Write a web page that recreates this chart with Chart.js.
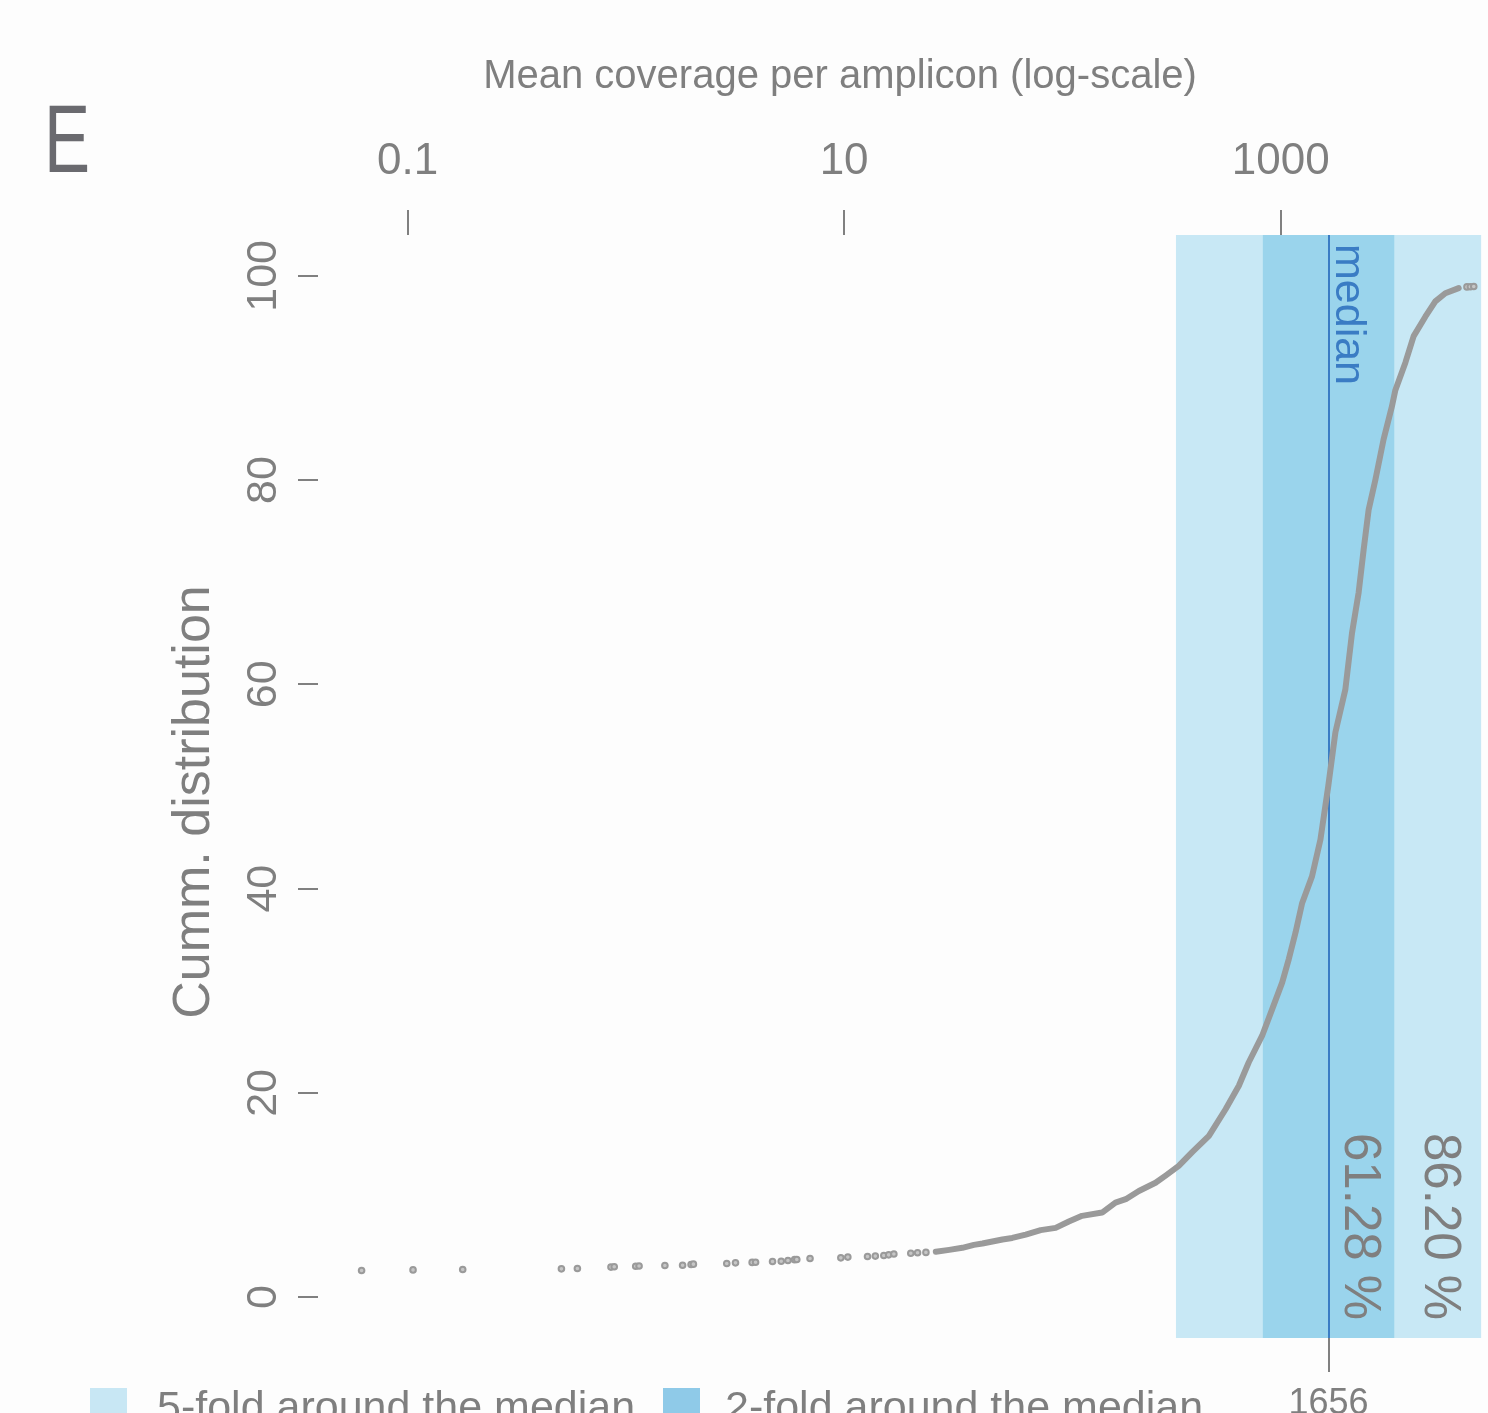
<!DOCTYPE html>
<html>
<head>
<meta charset="utf-8">
<script src="https://cdn.jsdelivr.net/npm/chart.js@4.4.0/dist/chart.umd.min.js"></script>
<style>
  html, body { margin: 0; padding: 0; background: #fdfdfd; overflow: hidden; }
</style>
</head>
<body>
<canvas id="cdf" width="1488" height="1460"></canvas>
<script>
// values
const median_cov = 1656;
const folds = [5, 2];
const fold_labels = ['86.20 %', '61.28 %'];
const legend_labels = ['5-fold around the median', '2-fold around the median'];
const top_ticks = [0.1, 10, 1000];
const y_ticks = [0, 20, 40, 60, 80, 100];

// isolated amplicons (drawn as single dots)
const sparse_cov = [0.0616, 0.106, 0.179, 0.507, 0.600, 0.855, 0.885, 1.11, 1.15, 1.51,
    1.82, 1.99, 2.04, 2.90, 3.18, 3.79, 3.93, 4.70, 5.15, 5.53,
    5.93, 6.07, 6.98, 9.66, 10.4, 12.8, 13.9, 15.2, 16.0, 16.9,
    20.2, 21.7, 23.7, 7130, 7390, 7660];
const sparse_pct = [2.61, 2.67, 2.71, 2.77, 2.81, 2.94, 2.97, 3.03, 3.05, 3.10,
    3.13, 3.20, 3.23, 3.30, 3.36, 3.40, 3.42, 3.49, 3.52, 3.59,
    3.67, 3.69, 3.79, 3.85, 3.92, 3.98, 4.02, 4.08, 4.14, 4.22,
    4.30, 4.34, 4.38, 98.92, 98.94, 98.96];

// dense part of the cumulative curve
const curve_cov = [26.3, 30.3, 34.8, 39.3, 43.0, 53.1, 58.9, 67.9, 79.5, 93.1,
    107, 123, 152, 175, 195, 224, 267, 297, 341, 393,
    469, 559, 643, 714, 822, 914, 1015, 1089, 1169, 1254,
    1391, 1520, 1650, 1780, 1977, 2120, 2275, 2398, 2528, 2712,
    2960, 3230, 3350, 3723, 4064, 4596, 5107, 5675, 6534];
const curve_pct = [4.44, 4.63, 4.83, 5.12, 5.25, 5.65, 5.80, 6.13, 6.56, 6.78,
    7.40, 7.96, 8.28, 9.26, 9.59, 10.4, 11.2, 11.9, 12.85, 14.2,
    15.8, 18.4, 20.7, 23.0, 25.6, 28.2, 30.8, 33.1, 35.7, 38.6,
    41.2, 44.8, 50.0, 55.3, 59.5, 65.0, 69.0, 73.2, 77.1, 80.0,
    84.0, 87.2, 88.8, 91.5, 94.1, 96.0, 97.5, 98.3, 98.8];

const FONT = "'Liberation Sans', Arial, sans-serif";
const grey_txt = '#7f7f7f';
const band_colors = ['#c8e8f5', '#9ad4ec'];
const legend_colors = ['#c8e7f4', '#8fcae8'];
const median_blue = '#3a7cc4';
const curve_grey = '#9a9a9a';
const x_min = 0.0389;
const x_max = 8356;

function toPoints(xs, ys){
    return xs.map((v, i) => ({x: v, y: ys[i]}));
}

function rotText(ctx, txt, x, y, angle, font, color, align){
    ctx.save();
    ctx.translate(x, y);
    ctx.rotate(angle);
    ctx.font = font;
    ctx.fillStyle = color;
    ctx.textAlign = align || 'left';
    ctx.textBaseline = 'alphabetic';
    ctx.fillText(txt, 0, 0);
    ctx.restore();
}

const decor = {
    id: 'decor',
    beforeDatasetsDraw(chart){
        const {ctx, chartArea: a, scales: {x}} = chart;
        ctx.save();
        folds.forEach((f, i) => {
            const l = x.getPixelForValue(median_cov / f);
            const r = x.getPixelForValue(median_cov * f);
            ctx.fillStyle = band_colors[i];
            ctx.fillRect(l, a.top, r - l, a.bottom - a.top);
        });
        const m = Math.round(x.getPixelForValue(median_cov));
        ctx.strokeStyle = median_blue;
        ctx.lineWidth = 2;
        ctx.beginPath();
        ctx.moveTo(m, a.top);
        ctx.lineTo(m, a.bottom);
        ctx.stroke();
        ctx.restore();
    },
    afterDraw(chart){
        const {ctx, chartArea: a, scales: {x}} = chart;
        const m = Math.round(x.getPixelForValue(median_cov));

        // panel letter
        ctx.save();
        ctx.translate(44, 172);
        ctx.scale(0.72, 1);
        ctx.font = '96px ' + FONT;
        ctx.fillStyle = '#6a6a6f';
        ctx.fillText('E', 0, 0);
        ctx.restore();

        // axis titles
        rotText(ctx, 'Mean coverage per amplicon (log-scale)', 840, 88, 0, '40px ' + FONT, grey_txt, 'center');
        rotText(ctx, 'Cumm. distribution', 209, 802, -Math.PI / 2, '52px ' + FONT, grey_txt, 'center');

        // labels inside the bands
        rotText(ctx, 'median', m + 7, a.top + 9, Math.PI / 2, '43px ' + FONT, median_blue);
        rotText(ctx, fold_labels[1], m + 16, a.bottom - 205, Math.PI / 2, '51px ' + FONT, grey_txt);
        rotText(ctx, fold_labels[0], m + 96, a.bottom - 205, Math.PI / 2, '51px ' + FONT, grey_txt);

        // legend
        const box_x = [90, 663];
        const txt_x = [157, 725];
        legend_labels.forEach((t, i) => {
            ctx.fillStyle = legend_colors[i];
            ctx.fillRect(box_x[i], 1388, 37, 40);
            rotText(ctx, t, txt_x[i], 1421, 0, '43px ' + FONT, grey_txt);
        });
    }
};

const tick_grid = (len) => ({
    display: true,
    drawOnChartArea: false,
    drawTicks: true,
    tickLength: len,
    color: '#808080',
    lineWidth: 2
});

const ctx = document.getElementById('cdf').getContext('2d');
const cdf_chart = new Chart(ctx, {
    type: 'scatter',
    data: {
        datasets: [{
            label: 'curve',
            data: toPoints(curve_cov, curve_pct),
            showLine: true,
            borderColor: curve_grey,
            borderWidth: 6,
            borderCapStyle: 'round',
            borderJoinStyle: 'round',
            pointRadius: 0,
            tension: 0
        }, {
            label: 'single amplicons',
            data: toPoints(sparse_cov, sparse_pct),
            showLine: false,
            pointRadius: 2.8,
            pointBorderWidth: 2,
            borderColor: curve_grey,
            backgroundColor: '#c6c6c6'
        }]
    },
    options: {
        responsive: false,
        animation: false,
        layout: { padding: 0 },
        plugins: {
            legend: { display: false },
            tooltip: { enabled: false }
        },
        scales: {
            x: {
                type: 'logarithmic',
                position: 'top',
                min: x_min,
                max: x_max,
                afterBuildTicks: s => { s.ticks = top_ticks.map(v => ({value: v})); },
                afterFit: s => { s.height = 235; },
                ticks: {
                    autoSkip: false,
                    maxRotation: 0,
                    padding: 22,
                    color: grey_txt,
                    font: { family: FONT, size: 44 },
                    callback: v => String(v)
                },
                grid: tick_grid(25),
                border: { display: false }
            },
            x2: {
                type: 'logarithmic',
                axis: 'x',
                position: 'bottom',
                min: x_min,
                max: x_max,
                afterBuildTicks: s => { s.ticks = [{value: median_cov}]; },
                afterFit: s => { s.height = 122; },
                ticks: {
                    autoSkip: false,
                    maxRotation: 0,
                    padding: 10,
                    color: grey_txt,
                    font: { family: FONT, size: 36 },
                    callback: v => String(v)
                },
                grid: tick_grid(34),
                border: { display: false }
            },
            y: {
                type: 'linear',
                min: -4,
                max: 104,
                afterBuildTicks: s => { s.ticks = y_ticks.map(v => ({value: v})); },
                afterFit: s => { s.width = 318; },
                ticks: {
                    minRotation: 90,
                    maxRotation: 90,
                    crossAlign: 'center',
                    padding: -2,
                    color: grey_txt,
                    font: { family: FONT, size: 43 }
                },
                grid: tick_grid(20),
                border: { display: false }
            }
        }
    },
    plugins: [decor]
});
</script>
</body>
</html>
